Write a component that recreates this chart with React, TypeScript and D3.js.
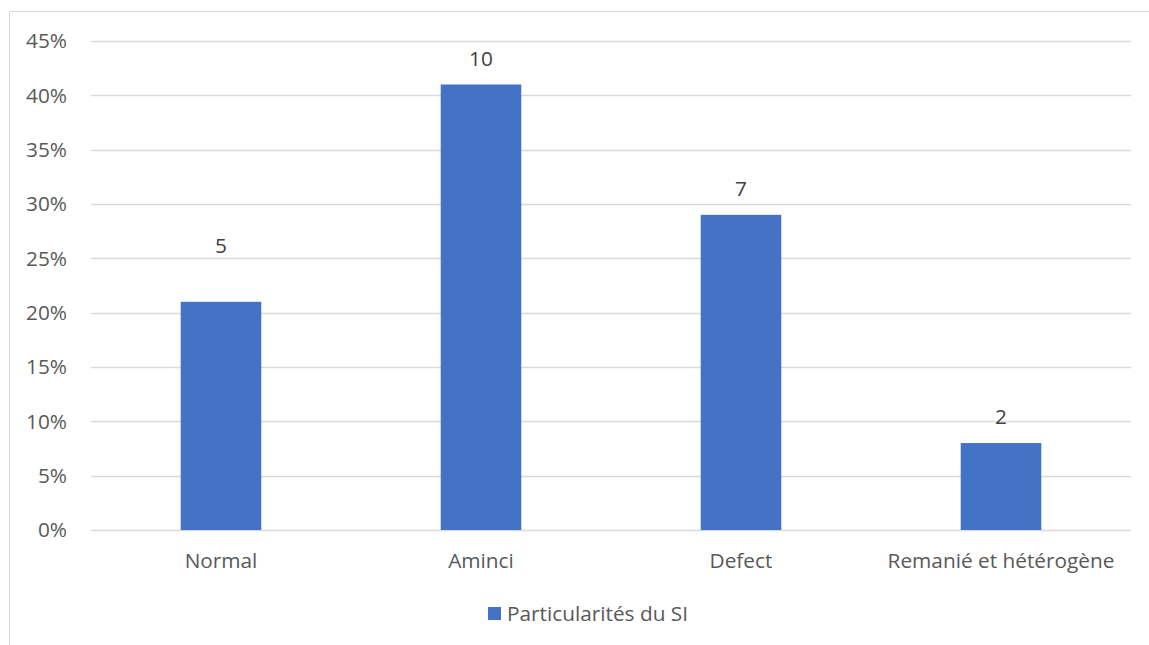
import React from "react";
import * as d3 from "d3";

const categories = ["Normal", "Aminci", "Defect", "Remanié et hétérogène"];
const percentages = [21, 41, 29, 8];
const counts = [5, 10, 7, 2];
const yTicks = [0, 5, 10, 15, 20, 25, 30, 35, 40, 45];
const seriesName = "Particularités du SI";

const W = 1149;
const H = 645;
const plot = { left: 91, right: 1131, top: 41, bottom: 530 };
const FONT = "'Open Sans', 'Noto Sans', sans-serif";
const TEXT = "#595959";
const BAR = "#4472c4";
const GRID = "#d9d9d9";
const FS = 20.8;
// extra manual lift applied to individual data labels (the first label sits higher in the reference)
const labelLift = [30, 0, 0, 0];

export default function App() {
  const x = d3.scaleBand<string>().domain(categories).range([plot.left, plot.right]).paddingInner(0.69).paddingOuter(0.345);
  const y = d3.scaleLinear().domain([0, 45]).range([plot.bottom, plot.top]);

  return (
    <svg width={W} height={H} style={{ position: "absolute", left: 0, top: 0, background: "#fff" }} fontFamily={FONT}>
      <rect x={0} y={0} width={W} height={H} fill="#fff" />
      <line x1={9.5} y1={11.5} x2={W} y2={11.5} stroke={GRID} strokeWidth={1} />
      <line x1={9.5} y1={11.5} x2={9.5} y2={H} stroke={GRID} strokeWidth={1} />
      {yTicks.map((t) => (
        <g key={t}>
          <line x1={plot.left} x2={plot.right} y1={Math.round(y(t)) + 0.5} y2={Math.round(y(t)) + 0.5} stroke={GRID} strokeWidth={1.3} />
          <text x={67} y={y(t)} dy="0.35em" textAnchor="end" fontSize={FS} fill={TEXT}>
            {t}%
          </text>
        </g>
      ))}
      {categories.map((c, i) => (
        <g key={c}>
          <rect x={x(c)} y={y(percentages[i])} width={x.bandwidth()} height={plot.bottom - y(percentages[i])} fill={BAR} />
          <text x={(x(c) as number) + x.bandwidth() / 2} y={y(percentages[i]) - 26 - labelLift[i]} dy="0.35em" textAnchor="middle" fontSize={FS} fill="#404040">
            {counts[i]}
          </text>
          <text x={(x(c) as number) + x.bandwidth() / 2} y={561} dy="0.35em" textAnchor="middle" fontSize={FS} fill={TEXT}>
            {c}
          </text>
        </g>
      ))}
      <rect x={488} y={607} width={13} height={13} fill={BAR} />
      <text x={507} y={614} dy="0.35em" fontSize={FS} fill={TEXT}>
        {seriesName}
      </text>
    </svg>
  );
}
